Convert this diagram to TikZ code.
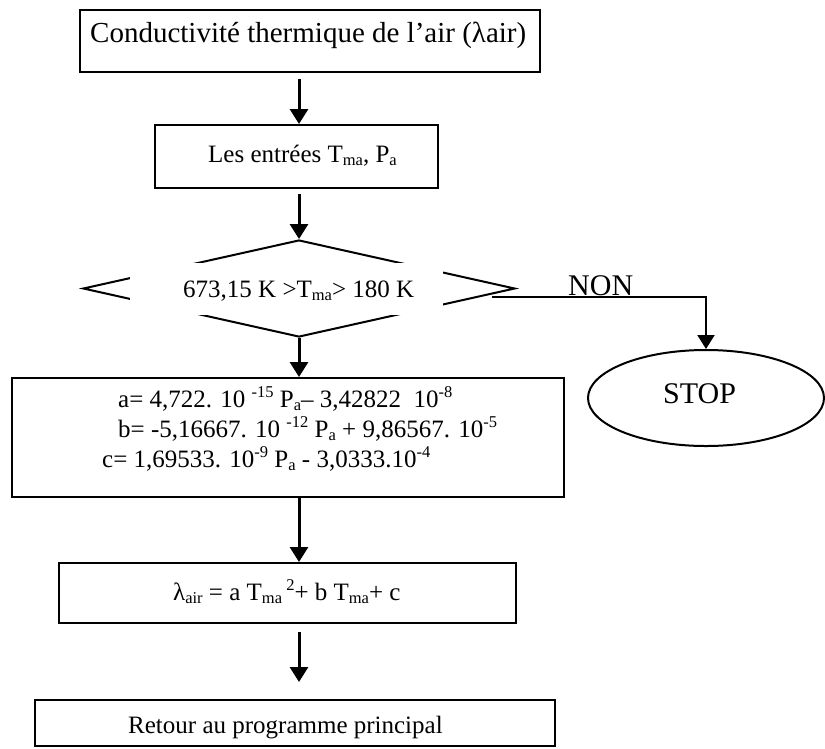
\documentclass[tikz,border=0pt]{standalone}
\usepackage{fontspec}
\setmainfont{Liberation Serif}
\usetikzlibrary{arrows.meta,shapes.geometric}
% Word-style lowered / raised small text
\newcommand\lowtxt[1]{\raisebox{-0.12em}{\scalebox{0.66}{#1}}}
\newcommand\hightxt[1]{\raisebox{0.38em}{\scalebox{0.66}{#1}}}
\begin{document}
\begin{tikzpicture}[x=1pt,y=-1pt,
  stepbox/.style={draw,line width=2pt,inner sep=0pt,rectangle},
  label/.style={inner sep=0pt,anchor=base west,font=\fontsize{25}{29}\selectfont},
  biglabel/.style={inner sep=0pt,anchor=base west,font=\fontsize{30}{34}\selectfont},
  arr/.style={line width=3pt,-{Triangle[length=15pt,width=18pt]}}]
\useasboundingbox (0,0) rectangle (825,748);

% boxes
\node[stepbox,minimum width=460pt,minimum height=62pt] (b1) at (310,41) {};
\node[stepbox,minimum width=283pt,minimum height=63pt] (b2) at (296.5,156.5) {};
\node[draw,line width=2pt,shape=diamond,inner sep=0pt,minimum width=432pt,minimum height=97pt] (dec) at (299,288.5) {};
\fill[white] (130,263) rectangle (443,315);
\node[stepbox,minimum width=552pt,minimum height=119pt] (b3) at (288,437.5) {};
\node[stepbox,minimum width=457pt,minimum height=60pt] (b4) at (287.5,593) {};
\node[stepbox,minimum width=520pt,minimum height=46pt] (b5) at (295,723) {};
\node[draw,line width=2pt,shape=ellipse,inner sep=0pt,minimum width=236pt,minimum height=96pt] (stop) at (706,398) {};

% texts
\node[label,font=\fontsize{29}{33}\selectfont] (t1) at (90,42) {Conductivité thermique de l’air (λair)};
\node[label] (t2) at (208,162) {Les entrées T\lowtxt{ma}, P\lowtxt{a}};
\node[label] (t3) at (183,297) {673,15 K >T\lowtxt{ma}> 180 K};
\node[label] (t4a) at (118,407) {a= 4,722. 10 \hightxt{-15} P\lowtxt{a}– 3,42822 \ 10\hightxt{-8}};
\node[label] (t4b) at (118,437) {b= -5,16667. 10 \hightxt{-12} P\lowtxt{a} + 9,86567. 10\hightxt{-5}};
\node[label] (t4c) at (102,467) {c= 1,69533. 10\hightxt{-9} P\lowtxt{a} - 3,0333.10\hightxt{-4}};
\node[label] (t5) at (173,600) {λ\lowtxt{air} = a T\lowtxt{ma}\,\hightxt{2}+ b T\lowtxt{ma}+ c};
\node[label] (t6) at (128,733) {Retour au programme principal};
\node[biglabel] (non) at (568,295) {NON};
\node[biglabel] (stoptxt) at (663,403) {STOP};

% connectors
\coordinate (axis) at (299,0);
\coordinate (nonstart) at (492,297);
\draw[arr,shorten <=6pt] (b1.south -| axis) -- (b2.north -| axis);
\draw[arr,shorten <=5pt] (b2.south -| axis) -- (dec.north);
\draw[arr] (dec.south) -- (b3.north -| axis);
\draw[arr] (b3.south -| axis) -- (b4.north -| axis);
\draw[arr,shorten <=8pt,shorten >=17pt] (b4.south -| axis) -- (b5.north -| axis);
\draw[line width=2.2pt,-{Triangle[length=14pt,width=17pt]}] (nonstart) -| (stop.north);
\end{tikzpicture}
\end{document}
